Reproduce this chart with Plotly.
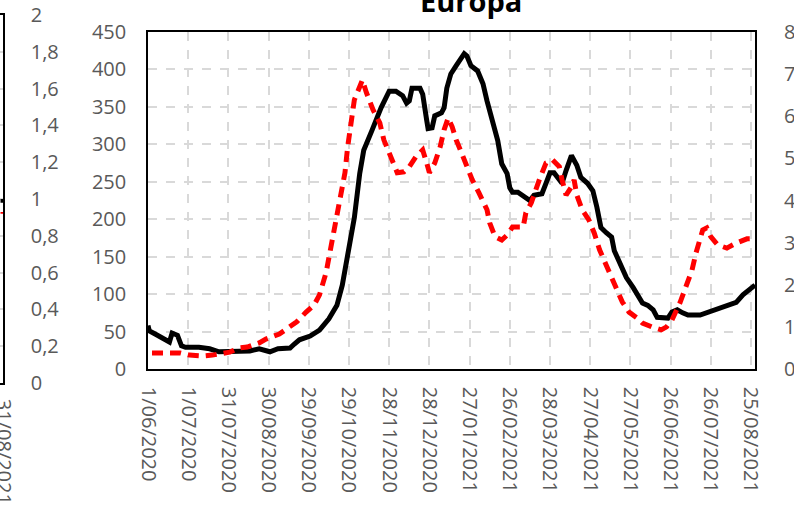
import plotly.graph_objects as go

# ---------------- data ----------------
black_dates = ["2020-06-01","2020-06-02","2020-06-06","2020-06-13","2020-06-17","2020-06-19","2020-06-23","2020-06-26","2020-06-29",
    "2020-07-09","2020-07-17","2020-07-24","2020-08-05","2020-08-16","2020-08-23","2020-08-31","2020-09-06","2020-09-15",
    "2020-09-18","2020-09-22","2020-09-30","2020-10-07","2020-10-14","2020-10-20","2020-10-24","2020-10-28","2020-11-02",
    "2020-11-06","2020-11-09","2020-11-15","2020-11-22","2020-11-28","2020-12-03","2020-12-08","2020-12-11","2020-12-13",
    "2020-12-15","2020-12-21","2020-12-23","2020-12-26","2020-12-27","2020-12-30","2021-01-01","2021-01-06","2021-01-08",
    "2021-01-10","2021-01-11","2021-01-13","2021-01-17","2021-01-21","2021-01-23","2021-01-25","2021-01-28","2021-02-02",
    "2021-02-06","2021-02-09","2021-02-13","2021-02-17","2021-02-20","2021-02-24","2021-02-26","2021-02-28","2021-03-04",
    "2021-03-07","2021-03-13","2021-03-16","2021-03-22","2021-03-25","2021-03-28","2021-03-31","2021-04-04","2021-04-06",
    "2021-04-09","2021-04-13","2021-04-17","2021-04-20","2021-04-25","2021-04-29","2021-05-02","2021-05-05","2021-05-09",
    "2021-05-13","2021-05-15","2021-05-19","2021-05-24","2021-05-29","2021-06-01","2021-06-05","2021-06-09","2021-06-13",
    "2021-06-16","2021-06-20","2021-06-24","2021-06-27","2021-07-01","2021-07-05","2021-07-09","2021-07-18","2021-07-25",
    "2021-08-04","2021-08-14","2021-08-19","2021-08-28"]
black_values = [58,51,47,41,36,48,45,31,29,
    29,27,23,23,24,27,23,27,28,
    33,39,44,52,67,85,112,149,202,
    261,292,318,349,371,371,365,355,358,
    375,375,367,332,321,322,338,342,349,
    375,382,394,405,414,421,418,405,398,
    381,358,332,305,274,261,242,236,236,
    232,225,232,234,248,262,262,252,248,
    265,285,272,256,248,238,216,189,182,
    176,158,141,122,109,101,88,85,79,
    69,68,68,76,79,75,72,72,76,
    83,89,99,112]

red_dates = ["2020-06-04","2020-06-11","2020-06-25","2020-07-02","2020-07-12","2020-07-19","2020-08-01","2020-08-08","2020-08-14",
    "2020-08-23","2020-08-28","2020-09-07","2020-09-15","2020-09-20","2020-09-27","2020-10-03","2020-10-07","2020-10-09",
    "2020-10-12","2020-10-14","2020-10-18","2020-10-22","2020-10-26","2020-10-28","2020-10-31","2020-11-02","2020-11-06",
    "2020-11-08","2020-11-11","2020-11-13","2020-11-16","2020-11-21","2020-11-24","2020-11-28","2020-12-02","2020-12-04",
    "2020-12-09","2020-12-13","2020-12-18","2020-12-23","2020-12-26","2020-12-28","2021-01-01","2021-01-05","2021-01-08",
    "2021-01-11","2021-01-14","2021-01-17","2021-01-21","2021-01-25","2021-01-29","2021-02-03","2021-02-09","2021-02-11",
    "2021-02-15","2021-02-20","2021-02-24","2021-02-28","2021-03-08","2021-03-10","2021-03-14","2021-03-20","2021-03-25",
    "2021-03-30","2021-04-04","2021-04-06","2021-04-09","2021-04-13","2021-04-15","2021-04-17","2021-04-21","2021-04-26",
    "2021-04-30","2021-05-04","2021-05-08","2021-05-13","2021-05-17","2021-05-21","2021-05-26","2021-06-01","2021-06-05",
    "2021-06-12","2021-06-19","2021-06-23","2021-06-27","2021-07-03","2021-07-08","2021-07-12","2021-07-15","2021-07-20",
    "2021-07-23","2021-07-26","2021-07-31","2021-08-07","2021-08-14","2021-08-22","2021-08-28"]
red_values = [0.38,0.38,0.38,0.33,0.31,0.33,0.40,0.50,0.52,
    0.62,0.71,0.83,1.00,1.12,1.35,1.52,1.76,1.95,
    2.30,2.64,3.37,4.01,4.66,5.27,5.91,6.39,6.70,
    6.86,6.56,6.39,6.15,5.84,5.44,5.13,4.80,4.66,
    4.68,4.80,5.04,5.20,4.89,4.66,4.89,5.27,5.68,
    5.96,5.75,5.44,5.13,4.80,4.49,4.18,3.78,3.47,
    3.14,3.06,3.18,3.37,3.37,3.71,3.94,4.49,4.89,
    4.96,4.80,4.49,4.13,4.32,4.49,4.13,3.78,3.54,
    3.23,2.83,2.52,2.19,1.88,1.59,1.35,1.21,1.09,
    1.00,0.93,1.00,1.16,1.57,2.04,2.35,2.76,3.30,
    3.35,3.14,2.95,2.87,2.99,3.09,3.09]

tick_dates = ["2020-06-01","2020-07-01","2020-07-31","2020-08-30","2020-09-29","2020-10-29","2020-11-28","2020-12-28",
              "2021-01-27","2021-02-26","2021-03-28","2021-04-27","2021-05-27","2021-06-26","2021-07-26","2021-08-25"]
tick_labels = ["1/06/2020","1/07/2020","31/07/2020","30/08/2020","29/09/2020","29/10/2020","28/11/2020","28/12/2020",
               "27/01/2021","26/02/2021","28/03/2021","27/04/2021","27/05/2021","26/06/2021","26/07/2021","25/08/2021"]
title_text = "Europa"

# remnant of the neighbouring chart on the left edge
prev_dates = ["2021-08-29", "2021-08-31"]
prev_black = [1.00, 0.98]
prev_red = [0.93, 0.92]
prev_tick_dates = ["2021-08-31"]
prev_tick_labels = ["31/08/2021"]

# ---------------- figure ----------------
W, H = 794, 517
ML, MR, MT, MB = 0, 39, 15, 134
PW = W - ML - MR
PH = H - MT - MB
plot_l, plot_r, plot_t, plot_b = 148, 755, 32, 369
xdom = [(plot_l - ML) / PW, (plot_r - ML) / PW]
ydom = [(MT + PH - plot_b) / PH, (MT + PH - plot_t) / PH]

FONT = "Open Sans"
GREY = "#595959"
GRID = "#d9d9d9"

fig = go.Figure()
fig.add_trace(go.Scatter(x=black_dates, y=black_values, mode="lines",
                         line=dict(color="black", width=5), xaxis="x", yaxis="y", showlegend=False))
fig.add_trace(go.Scatter(x=red_dates, y=red_values, mode="lines",
                         line=dict(color="#ff0000", width=5, dash="11px,7px"), xaxis="x", yaxis="y2", showlegend=False))
fig.add_trace(go.Scatter(x=prev_dates, y=prev_black, mode="lines",
                         line=dict(color="black", width=5), xaxis="x3", yaxis="y3", showlegend=False))
fig.add_trace(go.Scatter(x=prev_dates, y=prev_red, mode="lines",
                         line=dict(color="#ff0000", width=5, dash="11px,7px"), xaxis="x3", yaxis="y3", showlegend=False))

tickfont = dict(family=FONT, size=20, color=GREY)

fig.update_layout(
    width=W, height=H,
    margin=dict(l=ML, r=MR, t=MT, b=MB, pad=0, autoexpand=False),
    paper_bgcolor="white", plot_bgcolor="white",
    separators=", ",
    showlegend=False,
    xaxis=dict(domain=xdom, type="date", range=["2020-06-01", "2021-08-28"], automargin=False,
               tickmode="array", tickvals=tick_dates, ticktext=tick_labels, tickangle=90,
               tickfont=tickfont, ticks="", ticklabelstandoff=12, ticklabeloverflow="allow",
               showgrid=True, gridcolor=GRID, griddash="dash", gridwidth=1.5,
               showline=True, linecolor="black", linewidth=1.5, mirror=True, zeroline=False,
               anchor="y"),
    yaxis=dict(domain=ydom, range=[0, 450], dtick=50, tick0=0, automargin=False,
               tickfont=tickfont, ticks="", ticklabelstandoff=16,
               showgrid=True, gridcolor=GRID, griddash="dash", gridwidth=1.5,
               showline=True, linecolor="black", linewidth=1.5, mirror=True, zeroline=False,
               anchor="x"),
    yaxis2=dict(domain=ydom, range=[0, 8], dtick=1, tick0=0, overlaying="y", side="right", automargin=False,
                tickfont=tickfont, ticks="", ticklabelstandoff=28,
                showgrid=False, showline=False, zeroline=False, anchor="x"),
    xaxis3=dict(domain=[0, 3 / PW], type="date", range=["2020-06-01", "2021-08-31"], automargin=False,
                tickmode="array", tickvals=prev_tick_dates, ticktext=prev_tick_labels, tickangle=90,
                tickfont=tickfont, ticks="", ticklabelstandoff=10, ticklabeloverflow="allow",
                showgrid=False, showline=True, linecolor="black", linewidth=1.5, mirror=True,
                zeroline=False, anchor="y3"),
    yaxis3=dict(domain=[0, 1], range=[0, 2], dtick=0.2, tick0=0, side="right", automargin=False,
                tickfont=tickfont, ticks="", ticklabelstandoff=22, tickformat=".1~f",
                showgrid=True, gridcolor=GRID, griddash="dash", gridwidth=1.5,
                showline=True, linecolor="black", linewidth=1.5, zeroline=False, anchor="x3"),
    annotations=[dict(text="<b>" + title_text + "</b>", xref="paper", yref="paper",
                      x=(471 - ML) / PW, y=(MT + PH - 0) / PH, xanchor="center", yanchor="middle",
                      showarrow=False, font=dict(family=FONT, size=29, color="black"))],
)

fig.write_html("out.html", config={"displayModeBar": False},
               post_script="document.body.style.margin='0';document.body.style.overflow='hidden';")
